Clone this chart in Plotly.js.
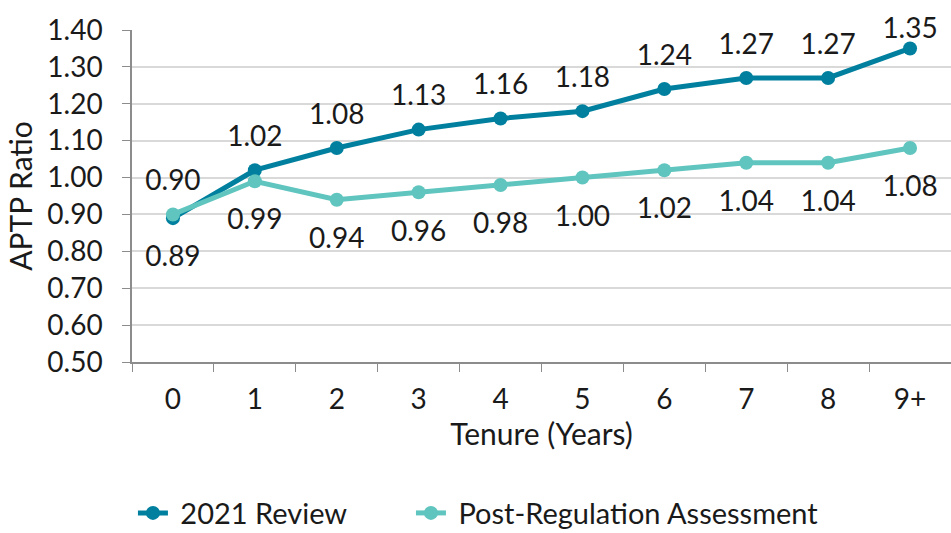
<!DOCTYPE html>
<html>
<head>
<meta charset="utf-8">
<script src="https://cdn.plot.ly/plotly-3.0.1.min.js"></script>
<style>
  body { margin: 0; background: #fff; }
  #plot { width: 951px; height: 533px; }
</style>
</head>
<body>
<div id="plot"></div>
<script>
// Tenure categories
var tenure = ["0", "1", "2", "3", "4", "5", "6", "7", "8", "9+"];

// APTP ratio per tenure year
var review2021 = [0.89, 1.02, 1.08, 1.13, 1.16, 1.18, 1.24, 1.27, 1.27, 1.35];
var postReg = [0.90, 0.99, 0.94, 0.96, 0.98, 1.00, 1.02, 1.04, 1.04, 1.08];

// y axis ticks
var yTicks = [0.5, 0.6, 0.7, 0.8, 0.9, 1.0, 1.1, 1.2, 1.3, 1.4];

var darkTeal = "#00809e";
var lightTeal = "#60c5bf";

// label above or below each point
var pos1 = review2021.map((v, i) => i == 0 ? "bottom center" : "top center");
var pos2 = postReg.map((v, i) => i == 0 ? "top center" : "bottom center");

// invisible marker sizes just push the labels away from the points
// (label near the top edge sits closer so it stays inside)
function padSizes(vals, pos) {
    return pos.map((p, i) => {
        if (p != "top center") return 42;
        return vals[i] > 1.3 ? 4 : 26;
    });
}

var trace1 = {
    x: tenure,
    y: review2021,
    name: "\u00a02021 Review" + "\u00a0".repeat(8),
    type: "scatter",
    mode: "lines+markers",
    line: { color: darkTeal, width: 5 },
    marker: { color: darkTeal, size: 14 }
};

var trace2 = {
    x: tenure,
    y: postReg,
    name: "\u00a0Post-Regulation Assessment",
    type: "scatter",
    mode: "lines+markers",
    line: { color: lightTeal, width: 5 },
    marker: { color: lightTeal, size: 14 }
};

var labels1 = {
    x: tenure,
    y: review2021,
    type: "scatter",
    mode: "markers+text",
    marker: { size: padSizes(review2021, pos1), opacity: 0 },
    text: review2021.map(v => v.toFixed(2)),
    textposition: pos1,
    textfont: { size: 28, color: "#1a1a1a" },
    cliponaxis: false,
    showlegend: false,
    hoverinfo: "skip"
};

var labels2 = {
    x: tenure,
    y: postReg,
    type: "scatter",
    mode: "markers+text",
    marker: { size: padSizes(postReg, pos2), opacity: 0 },
    text: postReg.map(v => v.toFixed(2)),
    textposition: pos2,
    textfont: { size: 28, color: "#1a1a1a" },
    cliponaxis: false,
    showlegend: false,
    hoverinfo: "skip"
};

var layout = {
    width: 951,
    height: 533,
    margin: { l: 132, r: 0, t: 30, b: 171, autoexpand: false },
    font: { family: "Lato, sans-serif", size: 28, color: "#1a1a1a" },
    plot_bgcolor: "#fff",
    paper_bgcolor: "#fff",
    showlegend: true,
    legend: {
        orientation: "h",
        x: 0.423,
        xanchor: "center",
        y: -0.455,
        yanchor: "middle",
        font: { size: 29 }
    },
    xaxis: {
        type: "category",
        range: [-0.5, 9.5],
        title: { text: "Tenure (Years)", font: { size: 30 }, standoff: 2 },
        showline: true,
        linecolor: "#8c8c8c",
        linewidth: 1.5,
        ticks: "outside",
        tickson: "boundaries",
        ticklen: 8,
        tickcolor: "#8c8c8c",
        ticklabelstandoff: 12,
        tickangle: 0,
        showgrid: false,
        zeroline: false
    },
    yaxis: {
        title: { text: "APTP Ratio", font: { size: 30 }, standoff: 6 },
        range: [0.5, 1.4],
        tickvals: yTicks,
        ticktext: yTicks.map(v => v.toFixed(2)),
        showline: true,
        linecolor: "#8c8c8c",
        linewidth: 1.5,
        ticks: "outside",
        ticklen: 8,
        tickcolor: "#8c8c8c",
        ticklabelstandoff: 14,
        showgrid: true,
        gridcolor: "#d9d9d9",
        gridwidth: 1.5,
        zeroline: false
    }
};

Plotly.newPlot("plot", [trace1, trace2, labels1, labels2], layout, { displayModeBar: false });
</script>
</body>
</html>
